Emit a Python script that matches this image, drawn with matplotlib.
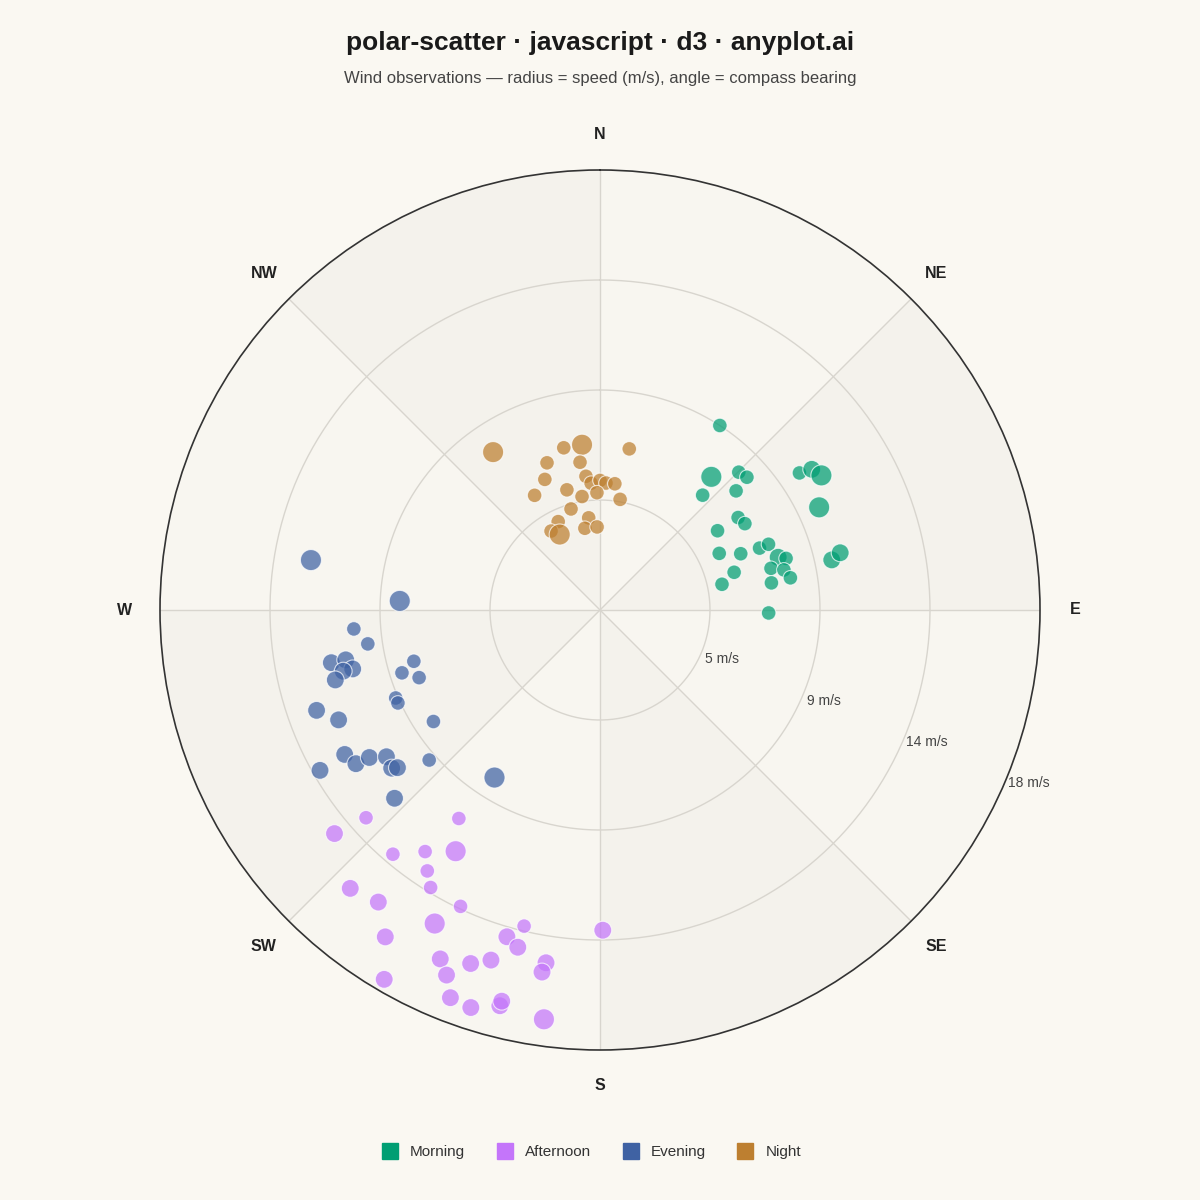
import numpy as np
import matplotlib.pyplot as plt
from matplotlib.lines import Line2D

plt.rcParams['font.family'] = ['Liberation Sans', 'DejaVu Sans']

# bearing (deg), speed (m/s), marker size per group
morning_dir = [33, 39.9, 45.2, 47.9, 41.8, 48.8, 55.5, 56.4, 58.7, 64.9, 56.2, 59.2, 56, 64.6, 68.2, 68.8,
               68.7, 73.5, 74.5, 76.3, 77.7, 80.4, 81, 74.3, 78.1, 91, 77.8, 76.6]
morning_spd = [9.0, 7.1, 8.0, 8.1, 6.3, 7.4, 9.9, 10.4, 10.6, 9.9, 6.8, 6.9, 5.8, 5.4, 6.2, 7.0,
               7.4, 7.6, 7.9, 7.2, 7.7, 7.9, 7.1, 5.7, 5.1, 6.9, 9.7, 10.1]
morning_big = [1, 3, 1, 1, 1, 1, 1, 2, 3, 3, 1, 1, 1, 1, 1, 1, 1, 2, 1, 1, 1, 1, 1, 1, 1, 1, 2, 2]

afternoon_dir = [229.9, 228.4, 214.1, 220.3, 215.9, 210.9, 213.5, 211.4, 221.9, 217.2, 205.2, 207.8, 213.3,
                 193.5, 195.9, 193.7, 179.5, 204.6, 200.1, 197.3, 202.8, 188.7, 189.1, 210.3, 201.1, 198,
                 194.2, 194.1, 187.8]
afternoon_spd = [14.2, 12.8, 10.3, 13.1, 12.2, 11.5, 12.8, 13.3, 15.3, 15.0, 13.4, 14.5, 16.0,
                 13.3, 13.9, 14.2, 13.1, 15.7, 15.4, 15.0, 16.2, 14.6, 15.0, 17.5, 17.0, 17.1,
                 16.7, 16.5, 16.9]
afternoon_big = [2, 1, 1, 1, 1, 3, 1, 1, 2, 2, 1, 3, 2, 1, 2, 2, 2, 2, 2, 2, 2, 2, 2, 2, 2, 2, 2, 2, 3]

evening_dir = [279.8, 272.6, 265.6, 261.7, 258.9, 258.9, 256.6, 256.6, 255.2, 254.6, 252.4, 249.5, 250.5,
               247.2, 246.7, 245.3, 236.2, 240.5, 237.8, 237.4, 235.5, 232.8, 232.1, 228.7, 240.2, 227.5,
               212.2]
evening_spd = [12.0, 8.2, 10.1, 9.6, 11.2, 10.6, 10.4, 10.8, 11.2, 7.9, 8.5, 7.9, 12.3,
               11.6, 9.1, 9.1, 8.2, 12.0, 11.8, 11.2, 10.6, 10.7, 10.5, 9.3, 13.2, 11.4, 8.1]
evening_big = [3, 3, 1, 1, 2, 2, 2, 2, 2, 1, 1, 1, 2, 2, 1, 1, 1, 2, 2, 2, 2, 2, 2, 1, 2, 2, 3]

night_dir = [325.9, 353.8, 347.4, 10.3, 340.2, 352.3, 337.1, 354, 356, 0, 2.7, 6.7, 344.6, 351, 358.5,
             330.3, 10.3, 344, 334.7, 353, 349.5, 358, 328.2, 331.9]
night_spd = [7.8, 6.8, 6.8, 6.7, 6.4, 6.1, 5.8, 5.5, 5.2, 5.3, 5.2, 5.2, 5.1, 4.7, 4.8,
             5.4, 4.6, 4.3, 4.0, 3.8, 3.4, 3.4, 3.8, 3.5]
night_big = [3, 3, 1, 1, 1, 1, 1, 1, 1, 1, 1, 1, 1, 1, 1, 1, 1, 1, 1, 1, 1, 1, 1, 3]

groups = ['Morning', 'Afternoon', 'Evening', 'Night']
colors = ['#009E73', '#C475FA', '#3F62A3', '#BD7F30']
data = [(morning_dir, morning_spd, morning_big), (afternoon_dir, afternoon_spd, afternoon_big),
        (evening_dir, evening_spd, evening_big), (night_dir, night_spd, night_big)]

rings = [4.5, 9, 13.5, 18]
ring_labels = ['5 m/s', '9 m/s', '14 m/s', '18 m/s']
compass = ['N', 'NE', 'E', 'SE', 'S', 'SW', 'W', 'NW']

bg = '#FAF8F2'
fig = plt.figure(figsize=(12, 12), dpi=100, facecolor=bg)
ax = fig.add_axes([160/1200, 150/1200, 880/1200, 880/1200], projection='polar')
ax.set_theta_zero_location('N')
ax.set_theta_direction(-1)
ax.set_ylim(0, 18)
ax.set_facecolor('#F8F6F0')
ax.grid(False)
ax.set_xticks([])
ax.set_yticks([])
ax.spines['polar'].set_color('#333333')
ax.spines['polar'].set_linewidth(1.2)

# alternating sectors
for i in range(8):
    if i % 2 == 1:
        th = np.linspace(np.radians(i*45), np.radians(i*45+45), 50)
        ax.fill_between(th, 0, 18, color='#F4F2EC', zorder=0, lw=0)

for r in rings[:-1]:
    th = np.linspace(0, 2*np.pi, 400)
    ax.plot(th, np.full_like(th, r), color='#D8D5CE', lw=1, zorder=1)
for i in range(8):
    ax.plot([np.radians(i*45)]*2, [0, 18], color='#D8D5CE', lw=1, zorder=1)

for r, lab in zip(rings, ring_labels):
    ax.text(np.radians(112), r + 0.9, lab, fontsize=10, color='#444444', ha='center', va='center')

for i, lab in enumerate(compass):
    ax.text(np.radians(i*45), 19.45, lab, fontsize=11.5, fontweight='bold', color='#222222',
            ha='center', va='center')

size_map = {1: 110, 2: 165, 3: 230}
for (d, s, b), c in zip(data, colors):
    sizes = [size_map[v] for v in b]
    ax.scatter(np.radians(d), s, s=sizes, color=c, alpha=0.72, edgecolors='white', linewidths=0.8, zorder=3)

fig.text(0.5, 1 - 43/1200, 'polar-scatter · javascript · d3 · anyplot.ai', ha='center', va='center',
         fontsize=19, fontweight='bold', color='#1a1a1a')
fig.text(0.5, 1 - 78/1200, 'Wind observations — radius = speed (m/s), angle = compass bearing',
         ha='center', va='center', fontsize=12, color='#444444')

handles = [Line2D([], [], marker='s', ls='', markersize=12, color=c) for c in colors]
fig.legend(handles, groups, loc='center', bbox_to_anchor=(0.49, 1 - 1152/1200), ncol=4, frameon=False,
           fontsize=11, handletextpad=0.3, columnspacing=1.6, labelcolor='#333333')

fig.savefig('out.png', facecolor=bg)
